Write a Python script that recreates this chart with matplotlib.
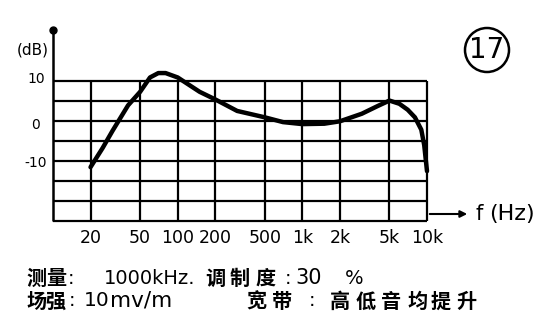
import numpy as np
import matplotlib
matplotlib.use("Agg")
import matplotlib.pyplot as plt
from matplotlib.patches import Ellipse, FancyArrowPatch

plt.rcParams['font.family'] = ['DejaVu Sans', 'Noto Sans CJK SC']
CJK = ['Noto Sans CJK SC', 'DejaVu Sans']

# response curve
freq = [20, 25, 30, 40, 50, 60, 70, 80, 100, 150, 200, 300, 500, 700, 1000,
        1500, 2000, 3000, 4000, 5000, 6000, 7000, 8000, 9000, 9500, 10000]
gain = [-11.5, -6.7, -2.4, 4.0, 7.4, 11.0, 12.1, 12.1, 11.0, 7.4, 5.5, 2.6, 1.0,
        -0.2, -0.7, -0.6, 0.0, 1.9, 3.8, 5.2, 4.4, 2.9, 1.0, -2.1, -6.0, -12.5]

x_ticks = [20, 50, 100, 200, 500, 1000, 2000, 5000, 10000]
x_labels = ['20', '50', '100', '200', '500', '1k', '2k', '5k', '10k']
y_grid = [10, 5, 0, -5, -10, -15, -20, -25]
y_ticks = [10, 0, -10]
y_labels = ['10', '0', '-10']

W, H = 553, 321
fig = plt.figure(figsize=(W / 100, H / 100), dpi=100)
ax = fig.add_axes([53 / W, (H - 221) / H, 374 / W, 191 / H])
ax.set_xscale('log')
xmin, xmax = 10, 10000
ymin, ymax = -25, 22.9
ax.set_xlim(xmin, xmax)
ax.set_ylim(ymin, ymax)
for s in ax.spines.values():
    s.set_visible(False)
ax.set_xticks([])
ax.set_yticks([])
ax.minorticks_off()

# grid box
ax.hlines(y_grid, xmin, xmax, color='black', lw=1.6, clip_on=False)
ax.vlines(x_ticks, ymin, 10, color='black', lw=1.6, clip_on=False)
ax.vlines([xmin], ymin, ymax, color='black', lw=1.8, clip_on=False)
ax.plot([xmin], [ymax], 'o', color='black', ms=5, clip_on=False)

# curve
ax.plot(freq, gain, color='black', lw=3.2, solid_capstyle='round', clip_on=False)

# tick labels
for f, lab in zip(x_ticks, x_labels):
    ax.text(f, -29.2, lab, ha='center', va='center', fontsize=12.5)
for v, lab, dy in zip(y_ticks, y_labels, [0.6, -1.0, -0.5]):
    ax.text(7.3, v + dy, lab, ha='center', va='center', fontsize=10)
ax.text(6.9, 17.8, '(dB)', ha='center', va='center', fontsize=11)

# x axis arrow
fig.add_artist(FancyArrowPatch(
    (427 / W, (H - 214) / H), (470 / W, (H - 214) / H),
    transform=fig.transFigure, arrowstyle='-|>', mutation_scale=10,
    color='black', lw=1.5))
fig.text(476 / W, (H - 214) / H, 'f', ha='left', va='center', fontsize=15)
fig.text(489 / W, (H - 214) / H, '(Hz)', ha='left', va='center', fontsize=16)

# figure number
fig.add_artist(Ellipse((487 / W, (H - 50) / H), 44 / W, 44 / H,
                       transform=fig.transFigure, fc='none', ec='black', lw=1.8))
fig.text(487 / W, (H - 50) / H, '17', ha='center', va='center', fontsize=20)


def cjk_row(chars, xs, y):
    # the scan spaces its characters wide, so each one is placed on its own
    for c, x in zip(chars, xs):
        if c == ':':
            fig.text(x / W, y, c, fontsize=14, va='center')
        else:
            fig.text(x / W, y, c, family=CJK, fontsize=14.5, fontweight='bold',
                     va='center')


# caption
y1 = (H - 278) / H
y2 = (H - 301) / H
cjk_row('测量:', [26, 46, 68], y1)
fig.text(104 / W, y1, '1000kHz.', fontsize=14, va='center')
cjk_row('调制度:', [205, 230, 256, 285], y1)
fig.text(295 / W, y1, '30', fontsize=15, va='center')
fig.text(345 / W, y1, '%', fontsize=14, va='center')
cjk_row('场强:', [26, 45, 69], y2)
fig.text(84 / W, y2, '10', fontsize=14.5, va='center')
fig.text(110 / W, y2, 'mv/m', fontsize=15.5, va='center')
cjk_row('宽带:', [246, 272, 309], y2)
cjk_row('高低音均提升', [330, 356, 381, 407, 431, 456], y2)

fig.savefig('out.png', dpi=100)
